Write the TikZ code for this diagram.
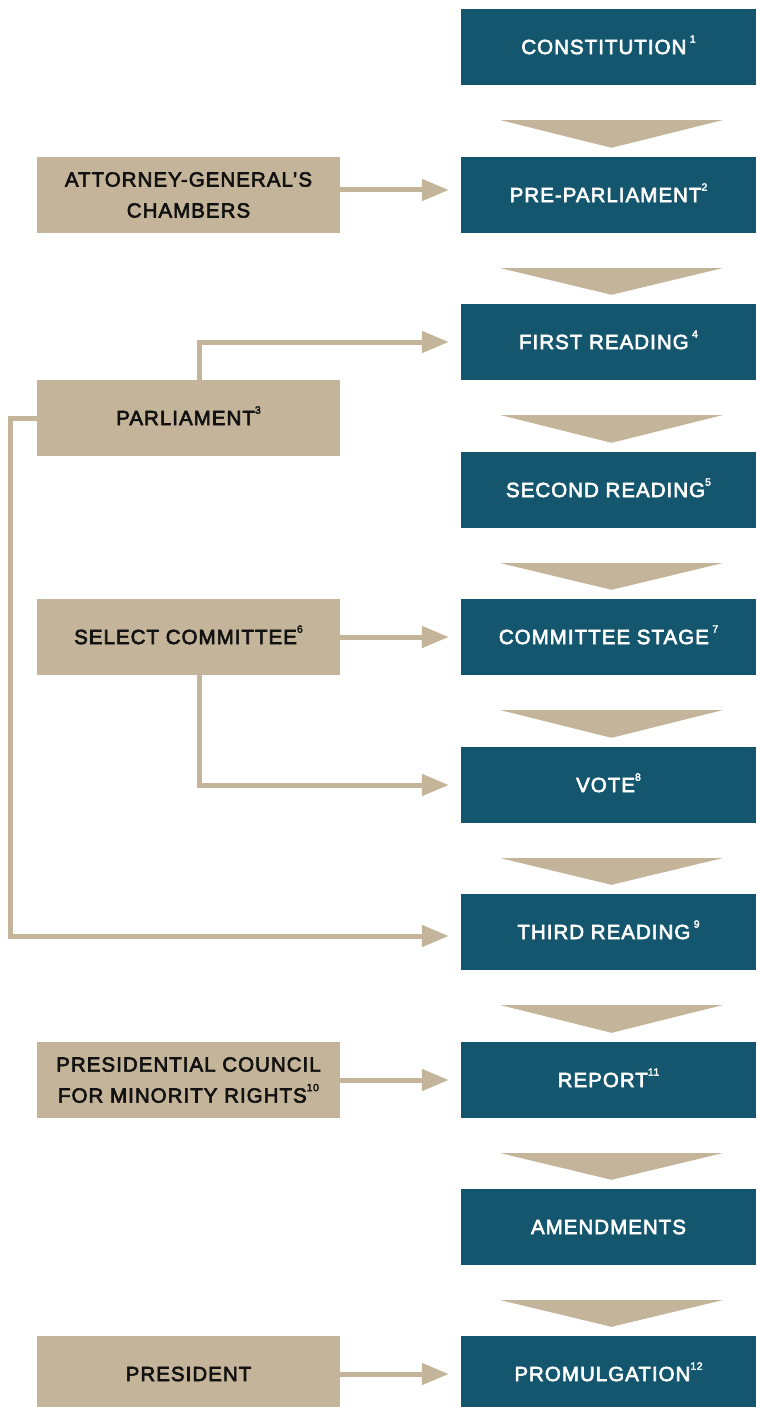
\documentclass[tikz,border=0pt]{standalone}
\usepackage{fontspec}
\setmainfont{Liberation Sans}[LetterSpace=5, FakeBold=3]
\usetikzlibrary{arrows.meta}
\definecolor{stage}{HTML}{15566F}
\definecolor{actor}{HTML}{C3B49A}
\definecolor{ink}{HTML}{111111}
% superscript note number
\newcommand{\note}[1]{\smash{\raisebox{1.05ex}{\fontsize{10.5}{10.5}\selectfont #1}}}
\tikzset{
  boxtext/.style={font=\fontsize{20.5}{31}\selectfont, align=center, inner sep=0pt},
  stagebox/.style={boxtext, fill=stage, text=white, minimum width=295pt, minimum height=76pt},
  actorbox/.style={boxtext, fill=actor, text=ink, minimum width=303pt, minimum height=76pt},
  link/.style={draw=actor, line width=5pt, shorten >=12pt, -{Triangle[length=27pt,width=21pt]}},
  chevron/.style={fill=actor},
}
\begin{document}
\begin{tikzpicture}[x=1pt,y=-1pt]
\useasboundingbox (0,0) rectangle (756,1407);

% main sequence of stages
\node[stagebox] (s1)  at (608.5,47)   {CONSTITUTION\,\note{1}};
\node[stagebox] (s2)  at (608.5,195)  {PRE-PARLIAMENT\note{2}};
\node[stagebox] (s3)  at (608.5,342)  {FIRST READING\,\note{4}};
\node[stagebox] (s4)  at (608.5,490)  {SECOND READING\note{5}};
\node[stagebox] (s5)  at (608.5,637)  {COMMITTEE STAGE\,\note{7}};
\node[stagebox] (s6)  at (608.5,785)  {VOTE\note{8}};
\node[stagebox] (s7)  at (608.5,932)  {THIRD READING\,\note{9}};
\node[stagebox] (s8)  at (608.5,1080) {REPORT\note{11}};
\node[stagebox] (s9)  at (608.5,1227) {AMENDMENTS};
\node[stagebox] (s10) at (608.5,1374) {PROMULGATION\note{12}};

% chevrons between consecutive stages
\foreach \a/\b in {s1/s2,s2/s3,s3/s4,s4/s5,s5/s6,s6/s7,s7/s8,s8/s9,s9/s10}{
  \fill[chevron] ([xshift=40pt,yshift=-35pt]\a.south west)
    -- ([xshift=-34pt,yshift=-35pt]\a.south east)
    -- ([xshift=3pt,yshift=9pt]\b.north) -- cycle;
}

% actors
\node[actorbox] (ag)   at (188.5,195)  {ATTORNEY-GENERAL’S\\CHAMBERS};
\node[actorbox] (parl) at (188.5,418)  {PARLIAMENT\note{3}};
\node[actorbox] (sc)   at (188.5,637)  {SELECT COMMITTEE\note{6}};
\node[actorbox] (pc)   at (188.5,1080) {PRESIDENTIAL COUNCIL\\FOR MINORITY RIGHTS\note{10}};
\node[actorbox] (pr)   at (188.5,1374) {PRESIDENT};

\coordinate (rail) at (10,0);

% connectors
\draw[link] ([yshift=5pt]ag.east) -- ([yshift=5pt]ag.east -| s2.west);
\draw[link] ([xshift=11pt]parl.north) |- (s3.west);
\draw[link] (parl.west) -- (parl.west -| rail) |- ([yshift=-4pt]s7.west);
\draw[link] (sc.east) -- (sc.east -| s5.west);
\draw[link] ([xshift=11pt]sc.south) |- (s6.west);
\draw[link] (pc.east) -- (pc.east -| s8.west);
\draw[link] (pr.east) -- (pr.east -| s10.west);
\end{tikzpicture}
\end{document}
